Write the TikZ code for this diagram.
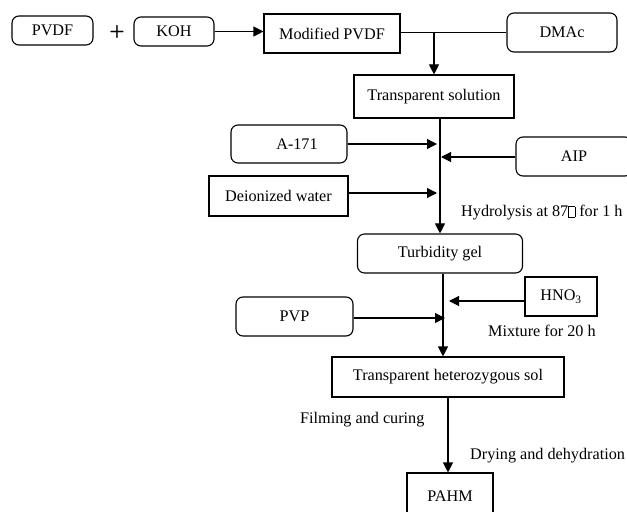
\documentclass[tikz,border=0pt]{standalone}
\usepackage{fontspec}
\setmainfont{Liberation Serif}
\usetikzlibrary{arrows.meta}
\newcommand{\tofubox}{{\setlength{\fboxsep}{0pt}\setlength{\fboxrule}{0.5pt}\fbox{\rule{0pt}{10bp}\hspace{6bp}}}}
\begin{document}
\begin{tikzpicture}[x=1bp,y=-1bp,
  every node/.style={font=\fontsize{16.2bp}{19bp}\selectfont, inner sep=0pt},
  sbox/.style={draw, line width=1.1bp, minimum width=#1},
  rbox/.style={draw, line width=1.1bp, rounded corners=7bp, minimum width=#1},
  conn/.style={line width=1.1bp},
  arr/.style={line width=1.1bp, -{Triangle[length=10bp,width=10bp]}},
  lbl/.style={anchor=west}]
\useasboundingbox (0,0) rectangle (627,512);

% nodes
\node[rbox=81bp, minimum height=29bp] (pvdf) at (52.5,30.5) {PVDF};
\node[font=\sffamily\bfseries\fontsize{18bp}{20bp}\selectfont] (plus) at (117,32) {+};
\node[rbox=80bp, minimum height=29bp] (koh) at (174,31.5) {KOH};
\node[sbox=136bp, minimum height=39bp] (mod) at (332,33.5) {Modified PVDF};
\node[rbox=110bp, minimum height=39bp] (dmac) at (562,32.5) {DMAc};
\node[sbox=160bp, minimum height=43bp] (ts) at (434,96.5) {Transparent solution};
\node[rbox=116bp, minimum height=38bp] (a171) at (289,144) {\hspace*{16bp}A-171};
\node[rbox=116bp, minimum height=39bp] (aip) at (574,156.5) {AIP};
\node[sbox=139bp, minimum height=40bp] (diw) at (278.5,196) {Deionized water};
\node[rbox=165bp, minimum height=39bp] (tg) at (440,253.5) {Turbidity gel};
\node[sbox=72bp, minimum height=39bp] (hno) at (561,296.5) {HNO\textsubscript{3}};
\node[rbox=117bp, minimum height=39bp] (pvp) at (294.5,316.5) {PVP};
\node[sbox=232bp, minimum height=40bp] (ths) at (448,377) {Transparent heterozygous sol};
\node[sbox=86bp, minimum height=46bp] (pahm) at (450,496) {PAHM};

% labels
\node[lbl] (hyd) at (461,213) {Hydrolysis at 87\tofubox{} for 1 h};
\node[lbl] (mix) at (488,331) {Mixture for 20 h};
\node[lbl] (film) at (300,420) {Filming and curing};
\node[lbl] (dry) at (470,456) {Drying and dehydration};

% coordinates
\coordinate (j1) at (434,32.5);
\coordinate (m1) at (437,144);
\coordinate (m2) at (441,157);
\coordinate (m3) at (437,193);
\coordinate (g1) at (443,273);
\coordinate (m4) at (449,301);
\coordinate (m5) at (445,318);
\coordinate (g2) at (448,397);

% connectors
\draw[arr] (koh.east) -- (mod.west |- koh.east);
\draw[conn] (mod.east |- j1) -- (dmac.west |- j1);
\draw[arr] (j1) -- (ts.north);
\draw[arr] (tg.north |- ts.south) -- (tg.north);
\draw[arr] (a171.east) -- (m1);
\draw[arr] (aip.west |- m2) -- (m2);
\draw[arr] (diw.east |- m3) -- (m3);
\draw[arr] (g1 |- tg.south) -- (g1 |- ths.north);
\draw[arr] (hno.west |- m4) -- (m4);
\draw[arr] (pvp.east |- m5) -- (m5);
\draw[arr] (g2 |- ths.south) -- (g2 |- pahm.north);
\end{tikzpicture}
\end{document}
